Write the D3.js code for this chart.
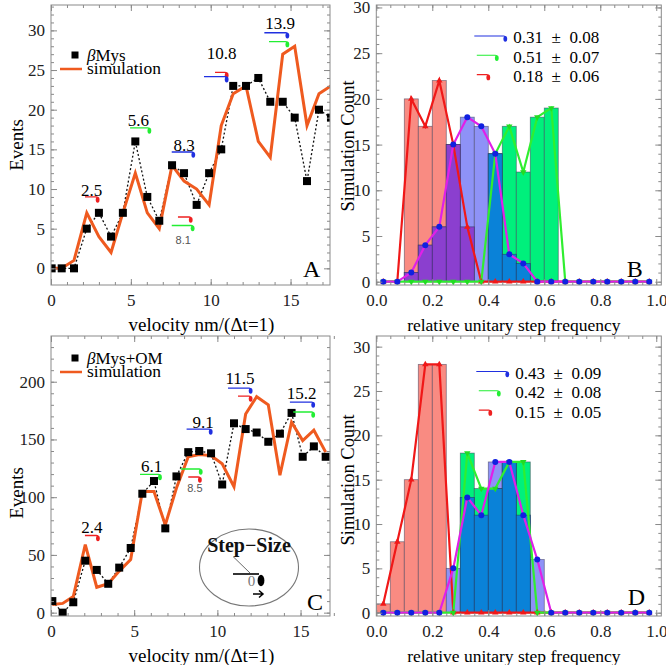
<!DOCTYPE html>
<html><head><meta charset="utf-8">
<script src="https://cdn.jsdelivr.net/npm/d3@7"></script>
<style>body{margin:0;background:#fff}svg{display:block}</style>
</head><body><script>
// ---------------- DATA ----------------
const velA    = [0.04,0.67,1.44,2.24,3.0,3.76,4.5,5.28,6.03,6.78,7.58,8.33,9.12,9.9,10.66,11.41,12.21,12.98,13.73,14.51,15.26,16.03,16.78,17.53];
const eventsA = [0,0,0,5,7,4,7,16,9,6,13,12,8,12,15,23,23,24,21,21,19,11,20,19];
const simA    = [0,0,1,7,4,2,7,12,7,5,13,11,10,8,18,22,23,16,14,27,28,18,22,23];

const velC    = [0.08,0.7,1.34,2.06,2.75,3.44,4.1,4.79,5.49,6.19,6.87,7.54,8.25,8.91,9.62,10.29,11.0,11.7,12.36,13.06,13.76,14.46,15.13,15.8,16.51];
const eventsC = [10,0,9,45,37,25,39,56,103,114,73,118,139,140,138,111,164,159,156,148,155,173,135,144,135];
const simC    = [7,8,14,59,22,25,36,46,105,105,76,108,135,137,136,129,109,172,187,180,119,165,149,158,139];

const binCenters = [0.025,0.075,0.125,0.175,0.225,0.275,0.325,0.375,0.425,0.475,0.525,0.575,0.625,0.675,0.725,0.775,0.825,0.875,0.925,0.975];
const binWidth = 0.05;
const redB   = [0,0,20,17,22,15,6,0,0,0,0,0,0,0,0,0,0,0,0,0];
const blueB  = [0,0,1,4,6,15,18,17,14,3,2,0,0,0,0,0,0,0,0,0];
const greenB = [0,0,0,0,0,0,0,0,14,17,12,18,19,0,0,0,0,0,0,0];
const redD   = [1,8,15,28,28,0,0,0,0,0,0,0,0,0,0,0,0,0,0,0];
const blueD  = [0,0,0,0,0,5,13,11,17,17,11,6,0,0,0,0,0,0,0,0];
const greenD = [0,0,0,0,0,0,18,14,14,17,17,0,0,0,0,0,0,0,0,0];

const legendB = ["0.31\u2002±\u20020.08","0.51\u2002±\u20020.07","0.18\u2002±\u20020.06"];
const legendD = ["0.43\u2002±\u20020.09","0.42\u2002±\u20020.08","0.15\u2002±\u20020.05"];

const velTicks = [0,5,10,15];
const yTicksA = [0,5,10,15,20,25,30];
const yTicksC = [0,50,100,150,200];
const freqTicks = [0,0.2,0.4,0.6,0.8,1.0];
const countTicks = [0,5,10,15,20,25,30];

// step-size annotations (data units)
const labelsA = [{t:"2.5",x:2.55,y:9.87},{t:"5.6",x:5.47,y:18.7},{t:"8.3",x:8.33,y:15.55},{t:"10.8",x:10.69,y:27.1},{t:"13.9",x:14.34,y:30.9}];
const smallA = [{t:"8.1",x:8.28,y:3.57}];
const glyphsA = [
  {c:"r",x0:2.13,x1:2.92,y:9.0},{c:"g",x0:4.95,x1:6.16,y:17.7},{c:"b",x0:7.56,x1:8.91,y:14.67},
  {c:"r",x0:7.95,x1:8.75,y:6.47},{c:"g",x0:7.56,x1:8.87,y:5.4},
  {c:"r",x0:10.27,x1:11.0,y:24.7},{c:"b",x0:9.58,x1:11.0,y:24.16},
  {c:"b",x0:13.36,x1:14.8,y:29.7},{c:"g",x0:13.65,x1:14.8,y:28.58}];
const labelsC = [{t:"2.4",x:2.45,y:74.5},{t:"6.1",x:6.05,y:127},{t:"9.1",x:9.15,y:165.4},{t:"11.5",x:11.36,y:203},{t:"15.2",x:15.07,y:190}];
const smallC = [{t:"8.5",x:8.65,y:107.7}];
const glyphsC = [
  {c:"r",x0:2.04,x1:2.82,y:66.8},{c:"g",x0:5.35,x1:6.55,y:119.7},{c:"b",x0:8.15,x1:9.6,y:159},
  {c:"g",x0:7.8,x1:9.0,y:124.4},{c:"r",x0:8.25,x1:8.95,y:117.5},
  {c:"b",x0:10.64,x1:12.0,y:194.5},{c:"r",x0:11.24,x1:12.0,y:187.6},
  {c:"b",x0:14.36,x1:15.76,y:182.4},{c:"g",x0:14.56,x1:15.76,y:173.8}];

// ---------------- STYLE ----------------
const SERIF = '"Liberation Serif","Times New Roman",serif';
const glyphCol = {r:"#ee2020", g:"#22ee33", b:"#2030e0"};
const barCol = {r:"#f98b82", b:"#8e92f7", g:"#00f07c", rb:"#8b3fcf", bg:"#0a82d8", rg:"#90b060"};
const lineCol = {r:"#f01818", g:"#30ee30", b:"#e020e8"};
const orange = "#ef5a1f";

const svg = d3.select("body").append("svg").attr("width",666).attr("height",665);

const panels = {
  A:{x0:51,x1:330,y0:5,y1:285,xd:[0,17.47],yd:[-2.1,33.2]},
  B:{x0:376.3,x1:661.3,y0:5,y1:285,xd:[0,1.018],yd:[-0.36,30.27]},
  C:{x0:51,x1:330,y0:336,y1:616,xd:[0,16.77],yd:[-2.9,239.6]},
  D:{x0:376.3,x1:661.3,y0:336,y1:616,xd:[0,1.018],yd:[-0.37,31.2]}
};
Object.entries(panels).forEach(([k,p])=>{
  p.x = d3.scaleLinear().domain(p.xd).range([p.x0,p.x1]);
  p.y = d3.scaleLinear().domain(p.yd).range([p.y1,p.y0]);
  svg.append("clipPath").attr("id","clip"+k).append("rect")
    .attr("x",p.x0).attr("y",p.y0).attr("width",p.x1-p.x0).attr("height",p.y1-p.y0);
});

function frame(p, xMaj, xMin, yMaj, yMin, xFmt, yFmt){
  const g = svg.append("g");
  const mk = (gen, tr, vals, size, fmt, pad) => {
    const a = g.append("g").attr("transform",tr)
      .call(gen.tickValues(vals).tickSize(size).tickPadding(pad).tickFormat(fmt));
    a.select(".domain").remove();
    a.selectAll("line").attr("stroke","#8a8a8a");
    a.selectAll("text").attr("font-family",SERIF).attr("font-size",17).attr("fill","#222");
    return a;
  };
  const none = () => "";
  mk(d3.axisBottom(p.x), `translate(0,${p.y1})`, xMin, -3, none, 0);
  mk(d3.axisTop(p.x), `translate(0,${p.y0})`, xMin, -3, none, 0);
  mk(d3.axisLeft(p.y), `translate(${p.x0},0)`, yMin, -3, none, 0);
  mk(d3.axisRight(p.y), `translate(${p.x1},0)`, yMin, -3, none, 0);
  mk(d3.axisBottom(p.x), `translate(0,${p.y1})`, xMaj, -6, xFmt, 9);
  mk(d3.axisTop(p.x), `translate(0,${p.y0})`, xMaj, -6, none, 0);
  mk(d3.axisLeft(p.y), `translate(${p.x0},0)`, yMaj, -6, yFmt, 6);
  mk(d3.axisRight(p.y), `translate(${p.x1},0)`, yMaj, -6, none, 0);
  g.append("rect").attr("x",p.x0).attr("y",p.y0).attr("width",p.x1-p.x0).attr("height",p.y1-p.y0)
    .attr("fill","none").attr("stroke","#8a8a8a").attr("stroke-width",1);
}

function stepGlyph(g, p, d, sw){
  const x0=p.x(d.x0), x1=p.x(d.x1), y=p.y(d.y), col=glyphCol[d.c];
  g.append("path").attr("d",`M${x0},${y}H${x1-1.5}Q${x1},${y} ${x1},${y+1.8}`)
    .attr("fill","none").attr("stroke",col).attr("stroke-width",sw||1.3);
  g.append("ellipse").attr("cx",x1).attr("cy",y+2.8).attr("rx",1.9).attr("ry",2.9).attr("fill",col);
}

const range = (a,b,s)=>d3.range(a,b+s/2,s).map(v=>+v.toFixed(4));

// ---------- velocity panels ----------
function velPanel(key, vel, ev, sim, yMaj, yMin, yFmt, labels, small, glyphs, legendName, legPos, titleY){
  const p = panels[key];
  const g = svg.append("g").attr("clip-path",`url(#clip${key})`);
  const pts = vel.map((v,i)=>({x:v, e:ev[i], s:sim[i]}));
  g.append("path").attr("d", d3.line().x(d=>p.x(d.x)).y(d=>p.y(d.e))(pts))
    .attr("fill","none").attr("stroke","#111").attr("stroke-width",1.3).attr("stroke-dasharray","2,2.2");
  g.append("path").attr("d", d3.line().x(d=>p.x(d.x)).y(d=>p.y(d.s))(pts))
    .attr("fill","none").attr("stroke",orange).attr("stroke-width",3).attr("stroke-linejoin","miter");
  g.selectAll("rect.sq").data(pts).join("rect").attr("class","sq")
    .attr("x",d=>p.x(d.x)-4).attr("y",d=>p.y(d.e)-4).attr("width",8).attr("height",8).attr("fill","#000");
  frame(p, velTicks, range(0,17,1), yMaj, yMin, d3.format("d"), yFmt);
  const a = svg.append("g");
  labels.forEach(d=>a.append("text").attr("x",p.x(d.x)).attr("y",p.y(d.y)).attr("dy","0.35em")
    .attr("text-anchor","middle").attr("font-family",SERIF).attr("font-size",17).text(d.t));
  small.forEach(d=>a.append("text").attr("x",p.x(d.x)).attr("y",p.y(d.y)).attr("dy","0.35em")
    .attr("text-anchor","middle").attr("font-family","Liberation Sans, Arial, sans-serif").attr("font-size",11).attr("fill","#555").text(d.t));
  glyphs.forEach(d=>stepGlyph(a,p,d));
  // legend
  const [lx,ly] = legPos;
  a.append("rect").attr("x",lx-3.5).attr("y",ly-3.5).attr("width",7).attr("height",7).attr("fill","#000");
  const t = a.append("text").attr("x",lx+12).attr("y",ly+5.5).attr("font-family",SERIF).attr("font-size",17);
  t.append("tspan").attr("font-style","italic").text("β");
  t.append("tspan").text(legendName);
  a.append("line").attr("x1",lx-15).attr("x2",lx+7).attr("y1",ly+14).attr("y2",ly+14)
    .attr("stroke",orange).attr("stroke-width",2.5);
  a.append("text").attr("x",lx+12).attr("y",ly+19).attr("font-family",SERIF).attr("font-size",17.5).text("simulation");
  // titles
  svg.append("text").attr("x",(p.x0+p.x1)/2+11).attr("y",p.y1+46).attr("text-anchor","middle")
    .attr("font-family",SERIF).attr("font-size",19).text("velocity nm/(Δt=1)");
  svg.append("text").attr("transform",`translate(${p.x0-35},${titleY}) rotate(-90)`).attr("text-anchor","middle")
    .attr("dy","0.35em").attr("font-family",SERIF).attr("font-size",19).text("Events");
}

velPanel("A", velA, eventsA, simA, yTicksA, range(0,33,1), d3.format("d"), labelsA, smallA, glyphsA, "Mys", [75,55], 145);
velPanel("C", velC, eventsC, simC, yTicksC, range(0,230,10), d3.format("d"), labelsC, smallC, glyphsC, "Mys+OM", [75,358], 493);
svg.append("text").attr("x",311.7).attr("y",268.3).attr("dy","0.35em").attr("text-anchor","middle").attr("font-family",SERIF).attr("font-size",24).text("A");
svg.append("text").attr("x",315).attr("y",601.7).attr("dy","0.35em").attr("text-anchor","middle").attr("font-family",SERIF).attr("font-size",24).text("C");

// Step-Size inset
(function(){
  const g = svg.append("g");
  g.append("ellipse").attr("cx",249).attr("cy",567.5).attr("rx",49.5).attr("ry",38.5).attr("fill","#fff").attr("stroke","#777").attr("stroke-width",1.1);
  g.append("text").attr("x",249).attr("y",545).attr("dy","0.35em").attr("text-anchor","middle")
    .attr("font-family",SERIF).attr("font-size",20).attr("font-weight","bold").attr("fill","#111").text("Step\u2212Size");
  g.append("line").attr("x1",233).attr("y1",556.5).attr("x2",250).attr("y2",573).attr("stroke","#444").attr("stroke-width",0.8);
  g.append("text").attr("x",251.5).attr("y",581).attr("dy","0.35em").attr("text-anchor","middle")
    .attr("font-family",SERIF).attr("font-size",15).attr("fill","#777").text("0");
  g.append("line").attr("x1",233).attr("y1",574).attr("x2",259).attr("y2",574).attr("stroke","#000").attr("stroke-width",1.6);
  g.append("ellipse").attr("cx",261).attr("cy",580.5).attr("rx",3.4).attr("ry",5.8).attr("fill","#000");
  g.append("path").attr("d","M253,594H263M259,590.5L263,594L259,597.5").attr("fill","none").attr("stroke","#000").attr("stroke-width",1.5);
})();

// ---------- histogram panels ----------
function histPanel(key, red, blue, green, legend, letterPos, legX, legY, titleY){
  const p = panels[key];
  const g = svg.append("g").attr("clip-path",`url(#clip${key})`);
  const ser = {r:red, b:blue, g:green};
  const bx = c => p.x(c - binWidth/2), bw = p.x(binWidth) - p.x(0);
  ["r","b","g"].forEach(s=>{
    binCenters.forEach((c,i)=>{ const h=ser[s][i]; if(h>0)
      g.append("rect").attr("x",bx(c)).attr("y",p.y(h)).attr("width",bw).attr("height",p.y(0)-p.y(h))
        .attr("fill",barCol[s]).attr("stroke","#3a3a55").attr("stroke-opacity",0.6).attr("stroke-width",0.8); });
  });
  [["r","b","rb"],["b","g","bg"],["r","g","rg"]].forEach(([s1,s2,cc])=>{
    binCenters.forEach((c,i)=>{ const h=Math.min(ser[s1][i],ser[s2][i]); if(h>0)
      g.append("rect").attr("x",bx(c)).attr("y",p.y(h)).attr("width",bw).attr("height",p.y(0)-p.y(h))
        .attr("fill",barCol[cc]).attr("stroke","#2a2a55").attr("stroke-opacity",0.6).attr("stroke-width",0.8); });
  });
  const ln = d3.line().x((d,i)=>p.x(binCenters[i])).y(d=>p.y(d));
  ["r","g","b"].forEach(s=>g.append("path").attr("d",ln(ser[s])).attr("fill","none").attr("stroke",lineCol[s]).attr("stroke-width",2.2));
  binCenters.forEach((c,i)=>{
    g.append("path").attr("d",d3.symbol().type(d3.symbolTriangle).size(18)()).attr("transform",`translate(${p.x(c)},${p.y(red[i])})`).attr("fill",lineCol.r);
    g.append("path").attr("d",d3.symbol().type(d3.symbolTriangle).size(18)()).attr("transform",`translate(${p.x(c)},${p.y(green[i])}) rotate(180)`).attr("fill","#22dd22");
  });
  binCenters.forEach((c,i)=>g.append("circle").attr("cx",p.x(c)).attr("cy",p.y(blue[i])).attr("r",3).attr("fill","#1020e0"));
  frame(p, freqTicks, range(0,1,0.05), countTicks, range(0,30,1), d3.format(".1f"), d3.format("d"));
  // legend
  const a = svg.append("g");
  const lx = p.x0+legX, ly = p.y0+legY;
  const starts = [0,2.5,2.5], ends = [31,22.5,14], cols=["b","g","r"];
  const id = {x:v=>v, y:v=>v};
  legend.forEach((s,i)=>{
    const y = ly + i*19.3;
    stepGlyph(a, id, {c:cols[i], x0:lx+starts[i], x1:lx+ends[i], y:y-1.5}, 1.1);
    a.append("text").attr("x",lx+39).attr("y",y).attr("dy","0.35em").attr("font-family",SERIF).attr("font-size",17).text(s);
  });
  a.append("text").attr("x",letterPos[0]).attr("y",letterPos[1]).attr("dy","0.35em").attr("text-anchor","middle")
    .attr("font-family",SERIF).attr("font-size",24).text(key);
  svg.append("text").attr("x",(p.x0+p.x1)/2-5).attr("y",p.y1+46).attr("text-anchor","middle")
    .attr("font-family",SERIF).attr("font-size",17.5).text("relative unitary step frequency");
  svg.append("text").attr("transform",`translate(${p.x0-29},${titleY}) rotate(-90)`).attr("text-anchor","middle")
    .attr("dy","0.35em").attr("font-family",SERIF).attr("font-size",18.5).text("Simulation Count");
}
histPanel("B", redB, blueB, greenB, legendB, [634.7,268.3], 98, 32.5, 146);
histPanel("D", redD, blueD, greenD, legendD, [636.3,596.7], 100, 37, 480);
</script></body></html>
